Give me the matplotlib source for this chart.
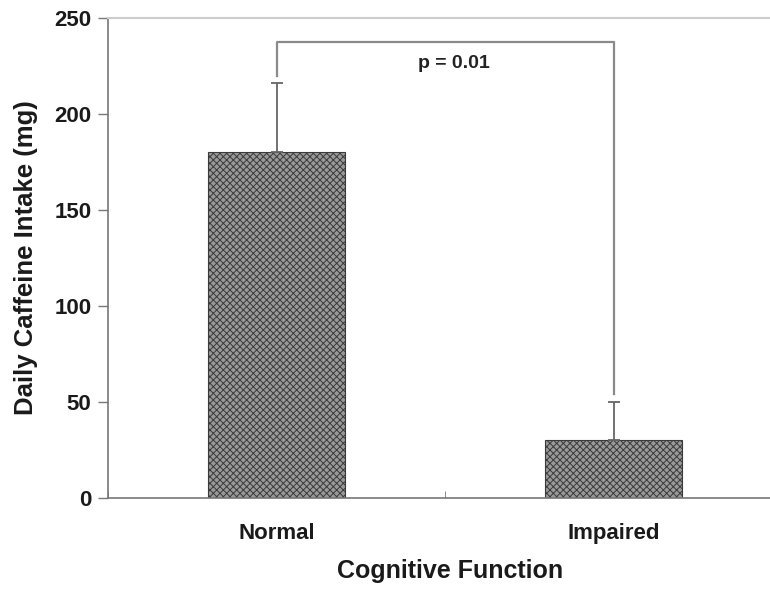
import numpy as np
import matplotlib.pyplot as plt

plt.rcParams['font.family'] = ['Liberation Sans', 'DejaVu Sans']
plt.rcParams['hatch.linewidth'] = 0.7

# data
groups = ['Normal', 'Impaired']
intake = [180, 30]
err_up = [36, 20]
p_text = 'p = 0.01'

fig = plt.figure(figsize=(7.7, 5.91), dpi=100)
# axis runs a bit past the right edge, like the source image
ax = fig.add_axes([108 / 770, 1 - 498 / 591, 674 / 770, 480 / 591])

x = np.arange(len(groups))
plt.rcParams['hatch.color'] = '#404040'
ax.bar(x, intake, width=0.405, color='#999999', edgecolor='#3a3a3a',
       hatch='xxxxx', linewidth=0.8, zorder=2)
ax.errorbar(x, intake, yerr=[[0, 0], err_up], fmt='none', ecolor='#666666',
            elinewidth=1.3, capsize=4, capthick=1.3, zorder=3)

# significance bracket
ax.plot([0, 0, 1, 1], [220, 237.5, 237.5, 54], color='#8a8a8a', lw=1.6,
        solid_joinstyle='round', zorder=1)
ax.text(0.527, 222, p_text, ha='center', va='bottom', fontsize=14,
        fontweight='bold', color='#222222')

ax.set_xlim(-0.5, 1.5)
ax.set_ylim(0, 250)
ax.set_yticks([0, 50, 100, 150, 200, 250])
ax.set_xticks([0, 1])
ax.set_xticklabels(groups)
ax.set_xticks([-0.5, 0.5], minor=True)
ax.tick_params(axis='x', which='major', length=0, pad=18)
ax.tick_params(axis='x', which='minor', length=5, direction='in', color='#777777')
ax.tick_params(axis='y', length=7, direction='out', color='#777777', width=1, pad=5)
for lab in ax.get_xticklabels() + ax.get_yticklabels():
    lab.set_fontweight('bold')
    lab.set_fontsize(16)
    lab.set_color('#1a1a1a')

ax.spines['right'].set_visible(False)
ax.spines['top'].set_color('#cccccc')
ax.spines['top'].set_linewidth(1.5)
ax.spines['left'].set_color('#777777')
ax.spines['bottom'].set_color('#777777')
ax.spines['left'].set_linewidth(1.2)
ax.spines['bottom'].set_linewidth(1.2)

ax.set_ylabel('Daily Caffeine Intake (mg)', fontsize=18.5, fontweight='bold',
              color='#1a1a1a')
ax.yaxis.set_label_coords((26 - 108) / 674, 0.5)
ax.yaxis.label.set_va('center')
ax.set_xlabel('Cognitive Function', fontsize=18, fontweight='bold',
              color='#1a1a1a')
ax.xaxis.set_label_coords((450 - 108) / 674, -(578 - 498) / 480)
ax.xaxis.label.set_va('baseline')

fig.savefig('out.png', dpi=100)
